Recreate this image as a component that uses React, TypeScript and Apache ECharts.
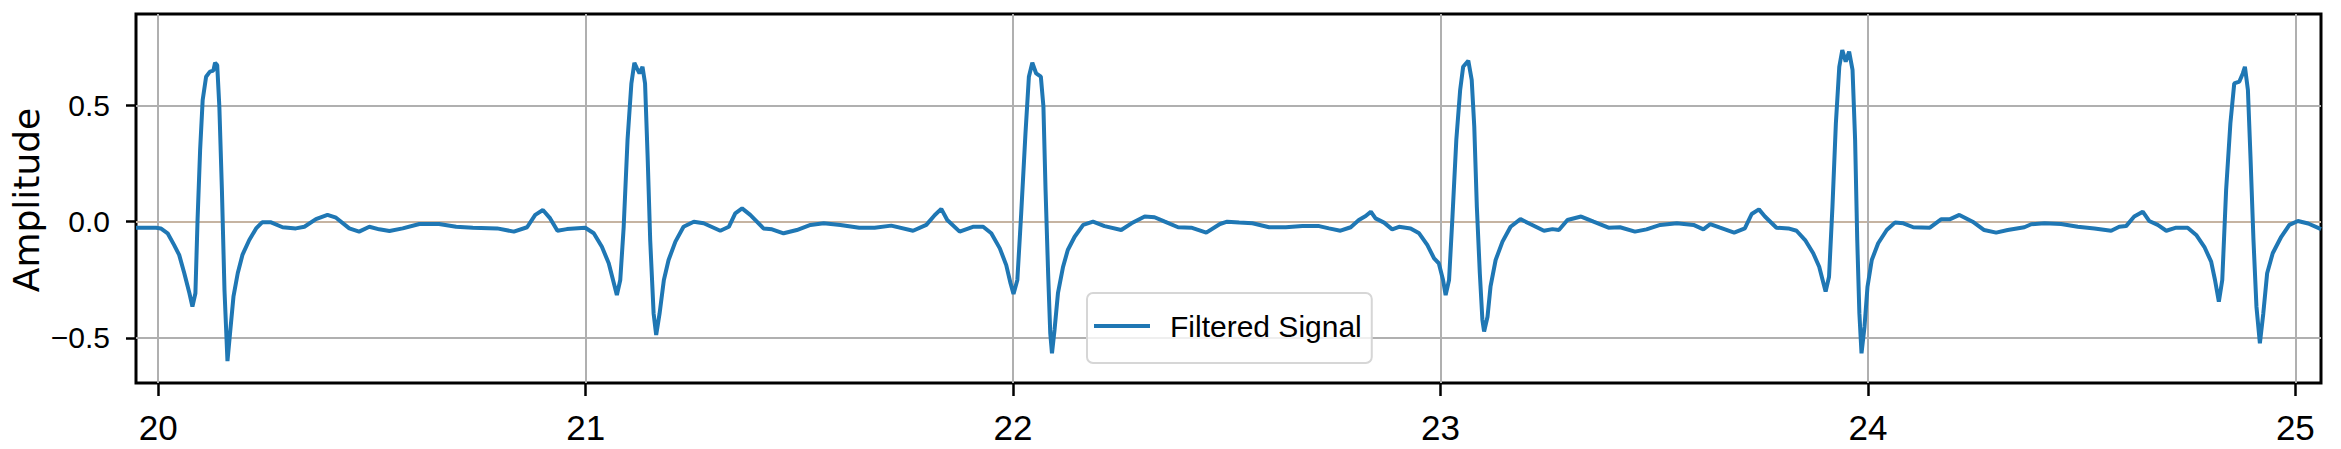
import React, { useEffect, useRef } from "react";
import * as echarts from "echarts";

const seriesName = "Filtered Signal";
const yTitle = "Amplitude";
const xTicks = [20, 21, 22, 23, 24, 25];
const yTicks = [-0.5, 0, 0.5];

const timeSec = [
  19.948, 19.995, 20.006, 20.022, 20.037, 20.049, 20.061, 20.073, 20.08, 20.087,
  20.092, 20.098, 20.104, 20.112, 20.121, 20.129, 20.133, 20.138, 20.143, 20.149,
  20.155, 20.162, 20.168, 20.176, 20.186, 20.197, 20.213, 20.229, 20.243, 20.264,
  20.291, 20.322, 20.342, 20.369, 20.396, 20.416, 20.447, 20.47, 20.494, 20.517,
  20.541, 20.572, 20.611, 20.657, 20.697, 20.736,
  20.793, 20.832, 20.863, 20.882, 20.9, 20.917, 20.934, 20.956, 20.999, 21.019,
  21.038, 21.054, 21.066, 21.073, 21.081, 21.089, 21.098, 21.107, 21.114, 21.12,
  21.126, 21.133, 21.139, 21.145, 21.151, 21.159, 21.165, 21.173, 21.183, 21.194,
  21.21, 21.229, 21.253, 21.276, 21.315, 21.335, 21.35, 21.366, 21.385, 21.416,
  21.436, 21.463, 21.494, 21.526, 21.557, 21.596, 21.64,
  21.676, 21.715, 21.766, 21.797, 21.817, 21.832, 21.846, 21.875, 21.906, 21.93,
  21.949, 21.969, 21.984, 21.994, 22.001, 22.01, 22.019, 22.029, 22.037, 22.045,
  22.054, 22.065, 22.071, 22.076, 22.082, 22.087, 22.091, 22.097, 22.105, 22.117,
  22.128, 22.144, 22.164, 22.187, 22.214, 22.253, 22.277, 22.308, 22.331, 22.355,
  22.386, 22.417, 22.452, 22.484,
  22.501, 22.529, 22.56, 22.599, 22.638, 22.677, 22.716, 22.739, 22.766, 22.79,
  22.809, 22.825, 22.837, 22.848, 22.868, 22.887, 22.903, 22.93, 22.95, 22.969,
  22.985, 22.996, 23.006, 23.012, 23.02, 23.028, 23.037, 23.046, 23.053, 23.065,
  23.073, 23.079, 23.085, 23.092, 23.098, 23.102, 23.11, 23.117, 23.129, 23.145,
  23.164, 23.187, 23.211, 23.242, 23.262, 23.277, 23.297, 23.329,
  23.358, 23.393, 23.42, 23.455, 23.482, 23.514, 23.553, 23.592, 23.615, 23.631,
  23.654, 23.687, 23.712, 23.728, 23.745, 23.759, 23.786, 23.814, 23.833, 23.853,
  23.872, 23.886, 23.894, 23.901, 23.909, 23.917, 23.925, 23.933, 23.94, 23.948,
  23.956, 23.964, 23.97, 23.975, 23.98, 23.985, 23.992, 23.999, 24.009, 24.024,
  24.044, 24.063, 24.083, 24.106, 24.145,
  24.171, 24.191, 24.214, 24.245, 24.272, 24.3, 24.327, 24.366, 24.382, 24.413,
  24.452, 24.491, 24.53, 24.569, 24.588, 24.604, 24.623, 24.643, 24.658, 24.678,
  24.698, 24.721, 24.748, 24.768, 24.787, 24.803, 24.812, 24.821, 24.829, 24.838,
  24.848, 24.857, 24.869, 24.877, 24.882, 24.889, 24.895, 24.902, 24.909, 24.917,
  24.925, 24.934, 24.947, 24.967, 24.986, 25.006, 25.03, 25.06,
];

const amplitude = [
  -0.026, -0.026, -0.029, -0.05, -0.1, -0.143, -0.222, -0.308, -0.366, -0.308,
  0.007, 0.308, 0.524, 0.624, 0.646, 0.65, 0.684, 0.674, 0.495, 0.136,
  -0.294, -0.6, -0.481, -0.323, -0.222, -0.143, -0.079, -0.029, -0.003, -0.003,
  -0.024, -0.029, -0.022, 0.011, 0.029, 0.017, -0.029, -0.043, -0.022, -0.033,
  -0.04, -0.029, -0.01, -0.01, -0.022, -0.026,
  -0.029, -0.043, -0.024, 0.029, 0.05, 0.014, -0.039, -0.032, -0.026, -0.05,
  -0.108, -0.179, -0.265, -0.316, -0.251, -0.022, 0.352, 0.595, 0.684, 0.66,
  0.638, 0.667, 0.595, 0.28, -0.079, -0.395, -0.488, -0.395, -0.251, -0.165,
  -0.086, -0.022, 0.0, -0.007, -0.039, -0.022, 0.036, 0.057, 0.029, -0.029,
  -0.033, -0.05, -0.036, -0.014, -0.007, -0.014, -0.026,
  -0.026, -0.017, -0.039, -0.014, 0.029, 0.055, 0.007, -0.043, -0.022, -0.022,
  -0.05, -0.115, -0.187, -0.265, -0.311, -0.251, 0.036, 0.38, 0.624, 0.684,
  0.638, 0.624, 0.495, 0.136, -0.222, -0.481, -0.567, -0.466, -0.308, -0.194,
  -0.122, -0.065, -0.014, 0.0, -0.019, -0.036, -0.007, 0.022, 0.019, 0.0,
  -0.024, -0.026, -0.047, -0.01,
  0.0, -0.004, -0.007, -0.024, -0.024, -0.019, -0.019, -0.029, -0.039, -0.024,
  0.007, 0.024, 0.043, 0.014, -0.004, -0.033, -0.022, -0.029, -0.05, -0.1,
  -0.158, -0.179, -0.251, -0.316, -0.251, 0.022, 0.352, 0.567, 0.667, 0.693,
  0.61, 0.409, 0.065, -0.222, -0.423, -0.473, -0.409, -0.28, -0.165, -0.086,
  -0.022, 0.011, -0.011, -0.039, -0.032, -0.036, 0.007, 0.022,
  0.0, -0.026, -0.024, -0.043, -0.033, -0.014, -0.007, -0.014, -0.033, -0.011,
  -0.026, -0.047, -0.029, 0.033, 0.053, 0.022, -0.026, -0.029, -0.039, -0.079,
  -0.136, -0.194, -0.251, -0.301, -0.237, 0.065, 0.423, 0.667, 0.739, 0.689,
  0.732, 0.653, 0.352, -0.079, -0.395, -0.567, -0.452, -0.28, -0.165, -0.093,
  -0.036, -0.004, -0.007, -0.024, -0.026,
  0.01, 0.01, 0.029, 0.0, -0.036, -0.047, -0.036, -0.024, -0.011, -0.007,
  -0.01, -0.022, -0.029, -0.039, -0.022, -0.019, 0.022, 0.043, 0.003, -0.014,
  -0.039, -0.026, -0.026, -0.057, -0.108, -0.172, -0.251, -0.344, -0.251, 0.136,
  0.423, 0.595, 0.603, 0.638, 0.667, 0.567, 0.28, -0.079, -0.366, -0.524,
  -0.395, -0.222, -0.136, -0.065, -0.014, 0.003, -0.008, -0.032,
];

const tickFont = "'Liberation Sans', Arial, sans-serif";

const fmtY = (v: number) =>
  v < 0 ? "\u2212" + Math.abs(v).toFixed(1) : v.toFixed(1);

export default function App() {
  const ref = useRef<HTMLDivElement>(null);

  useEffect(() => {
    if (!ref.current) return;
    const chart = echarts.init(ref.current, null, { renderer: "svg" });
    const data = timeSec.map((t, i) => [t, amplitude[i]]);
    chart.setOption({
      animation: false,
      backgroundColor: "#ffffff",
      grid: {
        left: 136,
        right: 20,
        top: 14,
        bottom: 66,
        show: true,
        borderColor: "#000000",
        borderWidth: 3,
        backgroundColor: "transparent",
      },
      xAxis: {
        type: "value",
        min: 19.948,
        max: 25.06,
        axisLine: { show: false, onZero: false },
        axisTick: {
          show: true,
          customValues: xTicks,
          length: 13,
          lineStyle: { color: "#000000", width: 2.5 },
        },
        axisLabel: {
          customValues: xTicks,
          formatter: (v: number) => String(Math.round(v)),
          fontSize: 35,
          lineHeight: 36,
          fontFamily: tickFont,
          color: "#000000",
          margin: 26,
        },
        splitLine: {
          show: true,
          lineStyle: { color: "#b0b0b0", width: 2 },
        },
      },
      yAxis: {
        type: "value",
        min: -0.6945,
        max: 0.894,
        axisLine: { show: false, onZero: false },
        axisTick: {
          show: true,
          customValues: yTicks,
          length: 10,
          lineStyle: { color: "#000000", width: 2.5 },
        },
        axisLabel: {
          customValues: yTicks,
          formatter: fmtY,
          fontSize: 30,
          lineHeight: 30,
          fontFamily: tickFont,
          color: "#000000",
          margin: 26,
        },
        splitLine: {
          show: true,
          lineStyle: { color: ["#b0b0b0", "#c6b4a2", "#b0b0b0"], width: 2 },
        },
      },
      legend: {
        data: [seriesName],
        left: 1087,
        top: 293,
        padding: [13, 10, 17, 7],
        backgroundColor: "rgba(255,255,255,0.8)",
        borderColor: "#d6d6d6",
        borderWidth: 2,
        borderRadius: 6,
        icon: "rect",
        itemWidth: 56,
        itemHeight: 4,
        textStyle: {
          fontSize: 30,
          lineHeight: 40,
          fontFamily: tickFont,
          color: "#000000",
          padding: [0, 0, 0, 15],
        },
      },
      graphic: [
        {
          type: "text",
          x: 26,
          y: 200,
          rotation: Math.PI / 2,
          style: {
            text: yTitle,
            fontSize: 36,
            fontFamily: "'DejaVu Sans', sans-serif",
            fill: "#000000",
            align: "center",
            verticalAlign: "middle",
          },
        },
      ],
      series: [
        {
          name: seriesName,
          type: "line",
          data,
          showSymbol: false,
          symbol: "none",
          smooth: false,
          itemStyle: { color: "#1f77b4" },
          lineStyle: { color: "#1f77b4", width: 4 },
          z: 3,
        },
      ],
    });
    return () => chart.dispose();
  }, []);

  return (
    <div
      ref={ref}
      style={{ position: "fixed", left: 0, top: 0, width: 2341, height: 449 }}
    />
  );
}
